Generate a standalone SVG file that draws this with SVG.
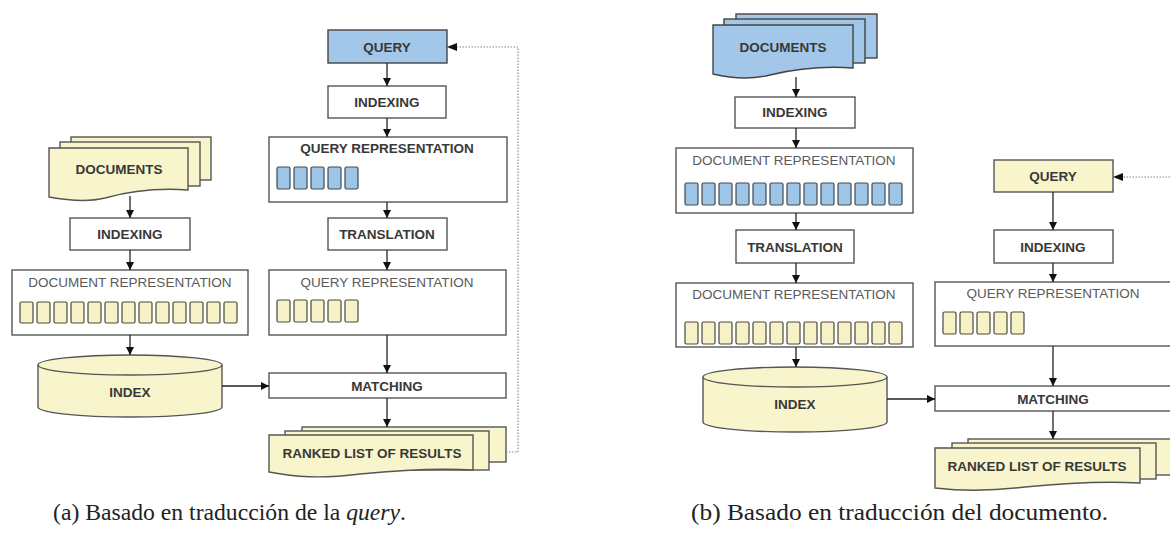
<svg xmlns="http://www.w3.org/2000/svg" width="1170" height="541" viewBox="0 0 1170 541">
  <style>
    .box { fill: #ffffff; stroke: #555555; stroke-width: 1.4; }
    .blue { fill: #a3c7e8; stroke: #444444; stroke-width: 1.4; }
    .yel { fill: #f8f5cd; stroke: #555555; stroke-width: 1.4; }
    .blk-b { fill: #9fc5e6; stroke: #3f4a55; stroke-width: 1.2; }
    .blk-y { fill: #f6f1c6; stroke: #4a4a3a; stroke-width: 1.2; }
    .lb { font-family: "Liberation Sans", Arial, sans-serif; font-size: 13.5px; font-weight: bold; fill: #383838; text-anchor: middle; }
    .lr { font-family: "Liberation Sans", Arial, sans-serif; font-size: 13.5px; fill: #5a5a5a; text-anchor: middle; }
    .cap { font-family: "Liberation Serif", "Times New Roman", serif; font-size: 24px; fill: #222222; }
    .arr { fill: none; stroke: #222222; stroke-width: 1.3; marker-end: url(#ah); }
    .dot { fill: none; stroke: #8c8082; stroke-width: 1.1; stroke-dasharray: 1.5 1.5; }
  </style>
  <defs>
    <marker id="ah" markerWidth="8" markerHeight="8" refX="8" refY="4" orient="auto" markerUnits="userSpaceOnUse">
      <path d="M0,0 L8,4 L0,8 Z" fill="#111111"/>
    </marker>
  </defs>
  <rect width="1170" height="541" fill="#ffffff"/>

  <!-- ===== (a) query translation ===== -->
  <g id="a-documents">
    <rect class="yel" x="71" y="137" width="140" height="43"/>
    <rect class="yel" x="60" y="142" width="140" height="44"/>
    <path class="yel" d="M49,148 H188 V190 C160,188 130,191 105,198 C85,203 65,200 49,197 Z"/>
    <text class="lb" x="119" y="174">DOCUMENTS</text>
  </g>
  <g id="a-indexing-doc">
    <rect class="box" x="70" y="218" width="120" height="32"/>
    <text class="lb" x="130" y="239">INDEXING</text>
  </g>
  <g id="a-docrep">
    <rect class="box" x="12" y="270" width="236" height="65"/>
    <text class="lr" x="130" y="287">DOCUMENT REPRESENTATION</text>
    <g>
      <rect class="blk-y" x="20" y="302" width="13" height="21" rx="1.5"/>
      <rect class="blk-y" x="37" y="302" width="13" height="21" rx="1.5"/>
      <rect class="blk-y" x="54" y="302" width="13" height="21" rx="1.5"/>
      <rect class="blk-y" x="71" y="302" width="13" height="21" rx="1.5"/>
      <rect class="blk-y" x="88" y="302" width="13" height="21" rx="1.5"/>
      <rect class="blk-y" x="105" y="302" width="13" height="21" rx="1.5"/>
      <rect class="blk-y" x="122" y="302" width="13" height="21" rx="1.5"/>
      <rect class="blk-y" x="139" y="302" width="13" height="21" rx="1.5"/>
      <rect class="blk-y" x="156" y="302" width="13" height="21" rx="1.5"/>
      <rect class="blk-y" x="173" y="302" width="13" height="21" rx="1.5"/>
      <rect class="blk-y" x="190" y="302" width="13" height="21" rx="1.5"/>
      <rect class="blk-y" x="207" y="302" width="13" height="21" rx="1.5"/>
      <rect class="blk-y" x="224" y="302" width="13" height="21" rx="1.5"/>
    </g>
  </g>
  <g id="a-index">
    <path class="yel" d="M38,365 V407 A92,10 0 0 0 222,407 V365"/>
    <ellipse class="yel" cx="130" cy="365" rx="92" ry="10"/>
    <text class="lb" x="130" y="397">INDEX</text>
  </g>
  <g id="a-query">
    <rect class="blue" x="328" y="30" width="119" height="33"/>
    <text class="lb" x="387" y="52">QUERY</text>
  </g>
  <g id="a-indexing-query">
    <rect class="box" x="328" y="86" width="118" height="32"/>
    <text class="lb" x="387" y="107">INDEXING</text>
  </g>
  <g id="a-queryrep-src">
    <rect class="box" x="269" y="137" width="238" height="65"/>
    <text class="lb" x="387" y="153">QUERY REPRESENTATION</text>
    <rect class="blk-b" x="277" y="167" width="13" height="22" rx="1.5"/>
    <rect class="blk-b" x="294" y="167" width="13" height="22" rx="1.5"/>
    <rect class="blk-b" x="311" y="167" width="13" height="22" rx="1.5"/>
    <rect class="blk-b" x="328" y="167" width="13" height="22" rx="1.5"/>
    <rect class="blk-b" x="345" y="167" width="13" height="22" rx="1.5"/>
  </g>
  <g id="a-translation">
    <rect class="box" x="328" y="218" width="119" height="32"/>
    <text class="lb" x="387" y="239">TRANSLATION</text>
  </g>
  <g id="a-queryrep-tgt">
    <rect class="box" x="269" y="270" width="237" height="65"/>
    <text class="lr" x="387" y="287">QUERY REPRESENTATION</text>
    <rect class="blk-y" x="277" y="300" width="13" height="22" rx="1.5"/>
    <rect class="blk-y" x="294" y="300" width="13" height="22" rx="1.5"/>
    <rect class="blk-y" x="311" y="300" width="13" height="22" rx="1.5"/>
    <rect class="blk-y" x="328" y="300" width="13" height="22" rx="1.5"/>
    <rect class="blk-y" x="345" y="300" width="13" height="22" rx="1.5"/>
  </g>
  <g id="a-matching">
    <rect class="box" x="269" y="373" width="237" height="25"/>
    <text class="lb" x="387" y="391">MATCHING</text>
  </g>
  <g id="a-results">
    <rect class="yel" x="302" y="427" width="204" height="35"/>
    <rect class="yel" x="285" y="431" width="204" height="39"/>
    <path class="yel" d="M269,435 H473 V470 C440,468 400,470 360,474 C320,479 295,477 269,472 Z"/>
    <text class="lb" x="372" y="458">RANKED LIST OF RESULTS</text>
  </g>

  <!-- ===== (b) document translation ===== -->
  <g id="b-documents">
    <rect class="blue" x="736" y="14" width="141" height="44"/>
    <rect class="blue" x="724" y="19" width="141" height="44"/>
    <path class="blue" d="M713,25 H853 V68 C825,66 795,69 770,75 C750,80 730,78 713,74 Z"/>
    <text class="lb" x="783" y="52">DOCUMENTS</text>
  </g>
  <g id="b-indexing-doc">
    <rect class="box" x="735" y="97" width="120" height="31"/>
    <text class="lb" x="795" y="117">INDEXING</text>
  </g>
  <g id="b-docrep-src">
    <rect class="box" x="676" y="148" width="237" height="65"/>
    <text class="lr" x="794" y="165">DOCUMENT REPRESENTATION</text>
    <rect class="blk-b" x="685" y="183" width="13" height="22" rx="1.5"/>
    <rect class="blk-b" x="702" y="183" width="13" height="22" rx="1.5"/>
    <rect class="blk-b" x="719" y="183" width="13" height="22" rx="1.5"/>
    <rect class="blk-b" x="736" y="183" width="13" height="22" rx="1.5"/>
    <rect class="blk-b" x="753" y="183" width="13" height="22" rx="1.5"/>
    <rect class="blk-b" x="770" y="183" width="13" height="22" rx="1.5"/>
    <rect class="blk-b" x="787" y="183" width="13" height="22" rx="1.5"/>
    <rect class="blk-b" x="804" y="183" width="13" height="22" rx="1.5"/>
    <rect class="blk-b" x="821" y="183" width="13" height="22" rx="1.5"/>
    <rect class="blk-b" x="838" y="183" width="13" height="22" rx="1.5"/>
    <rect class="blk-b" x="855" y="183" width="13" height="22" rx="1.5"/>
    <rect class="blk-b" x="872" y="183" width="13" height="22" rx="1.5"/>
    <rect class="blk-b" x="889" y="183" width="13" height="22" rx="1.5"/>
  </g>
  <g id="b-translation">
    <rect class="box" x="736" y="230" width="118" height="33"/>
    <text class="lb" x="795" y="252">TRANSLATION</text>
  </g>
  <g id="b-docrep-tgt">
    <rect class="box" x="676" y="283" width="237" height="64"/>
    <text class="lr" x="794" y="299">DOCUMENT REPRESENTATION</text>
    <rect class="blk-y" x="685" y="322" width="13" height="22" rx="1.5"/>
    <rect class="blk-y" x="702" y="322" width="13" height="22" rx="1.5"/>
    <rect class="blk-y" x="719" y="322" width="13" height="22" rx="1.5"/>
    <rect class="blk-y" x="736" y="322" width="13" height="22" rx="1.5"/>
    <rect class="blk-y" x="753" y="322" width="13" height="22" rx="1.5"/>
    <rect class="blk-y" x="770" y="322" width="13" height="22" rx="1.5"/>
    <rect class="blk-y" x="787" y="322" width="13" height="22" rx="1.5"/>
    <rect class="blk-y" x="804" y="322" width="13" height="22" rx="1.5"/>
    <rect class="blk-y" x="821" y="322" width="13" height="22" rx="1.5"/>
    <rect class="blk-y" x="838" y="322" width="13" height="22" rx="1.5"/>
    <rect class="blk-y" x="855" y="322" width="13" height="22" rx="1.5"/>
    <rect class="blk-y" x="872" y="322" width="13" height="22" rx="1.5"/>
    <rect class="blk-y" x="889" y="322" width="13" height="22" rx="1.5"/>
  </g>
  <g id="b-index">
    <path class="yel" d="M703,377 V422 A92,10 0 0 0 887,422 V377"/>
    <ellipse class="yel" cx="795" cy="377" rx="92" ry="10"/>
    <text class="lb" x="795" y="409">INDEX</text>
  </g>
  <g id="b-query">
    <rect class="yel" x="994" y="160" width="119" height="32"/>
    <text class="lb" x="1053" y="181">QUERY</text>
  </g>
  <g id="b-indexing-query">
    <rect class="box" x="994" y="230" width="119" height="33"/>
    <text class="lb" x="1053" y="252">INDEXING</text>
  </g>
  <g id="b-queryrep">
    <rect class="box" x="935" y="282" width="238" height="64"/>
    <text class="lr" x="1053" y="298">QUERY REPRESENTATION</text>
    <rect class="blk-y" x="943" y="312" width="13" height="22" rx="1.5"/>
    <rect class="blk-y" x="960" y="312" width="13" height="22" rx="1.5"/>
    <rect class="blk-y" x="977" y="312" width="13" height="22" rx="1.5"/>
    <rect class="blk-y" x="994" y="312" width="13" height="22" rx="1.5"/>
    <rect class="blk-y" x="1011" y="312" width="13" height="22" rx="1.5"/>
  </g>
  <g id="b-matching">
    <rect class="box" x="935" y="386" width="238" height="25"/>
    <text class="lb" x="1053" y="404">MATCHING</text>
  </g>
  <g id="b-results">
    <rect class="yel" x="968" y="439" width="205" height="36"/>
    <rect class="yel" x="952" y="443" width="204" height="36"/>
    <path class="yel" d="M935,448 H1140 V483 C1105,481 1065,483 1025,487 C985,492 960,491 935,488 Z"/>
    <text class="lb" x="1037" y="471">RANKED LIST OF RESULTS</text>
  </g>

  <!-- ===== connectors ===== -->
  <g id="connectors">
    <line class="arr" x1="130" y1="196" x2="130" y2="218"/>
    <line class="arr" x1="130" y1="250" x2="130" y2="270"/>
    <line class="arr" x1="130" y1="335" x2="130" y2="355"/>
    <line class="arr" x1="222" y1="386" x2="269" y2="386"/>
    <line class="arr" x1="387" y1="63" x2="387" y2="86"/>
    <line class="arr" x1="387" y1="118" x2="387" y2="137"/>
    <line class="arr" x1="387" y1="202" x2="387" y2="218"/>
    <line class="arr" x1="387" y1="250" x2="387" y2="270"/>
    <line class="arr" x1="387" y1="335" x2="387" y2="373"/>
    <line class="arr" x1="387" y1="398" x2="387" y2="427"/>
    <polyline class="dot" points="506,452 518,452 518,47 457,47"/>
    <path d="M447,47 L457,43 L457,51 Z" fill="#111111"/>

    <line class="arr" x1="796" y1="77" x2="796" y2="97"/>
    <line class="arr" x1="796" y1="128" x2="796" y2="148"/>
    <line class="arr" x1="796" y1="213" x2="796" y2="230"/>
    <line class="arr" x1="796" y1="263" x2="796" y2="283"/>
    <line class="arr" x1="796" y1="347" x2="796" y2="367"/>
    <line class="arr" x1="887" y1="399" x2="935" y2="399"/>
    <line class="arr" x1="1053" y1="192" x2="1053" y2="230"/>
    <line class="arr" x1="1053" y1="263" x2="1053" y2="282"/>
    <line class="arr" x1="1053" y1="346" x2="1053" y2="386"/>
    <line class="arr" x1="1053" y1="411" x2="1053" y2="439"/>
    <line class="dot" x1="1170" y1="177" x2="1123" y2="177"/>
    <path d="M1113,177 L1123,173 L1123,181 Z" fill="#111111"/>
  </g>

  <!-- captions -->
  <text class="cap" x="53" y="520" textLength="353" lengthAdjust="spacingAndGlyphs">(a) Basado en traducción de la <tspan font-style="italic">query</tspan>.</text>
  <text class="cap" x="691" y="520" textLength="417" lengthAdjust="spacingAndGlyphs">(b) Basado en traducción del documento.</text>
</svg>
